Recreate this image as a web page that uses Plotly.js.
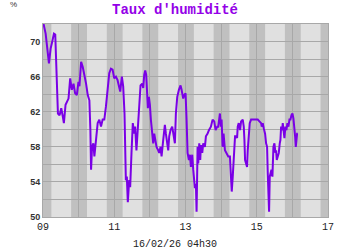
<!DOCTYPE html>
<html>
<head>
<meta charset="utf-8">
<script src="https://cdn.plot.ly/plotly-3.0.1.min.js"></script>
<style>html,body{margin:0;padding:0;background:#fff;}#chart{width:350px;height:250px;}</style>
</head>
<body>
<div id="chart"></div>
<script>
// Time in days of February 2026, humidity in %
const times = [
9.000,9.074,9.167,9.214,9.260,9.307,9.344,9.372,9.391,9.419,9.465,9.512,9.558,9.586,9.633,9.670,9.716,9.763,9.809,9.856,9.902,9.949,9.995,
10.023,10.070,10.116,10.163,10.209,10.256,10.302,10.330,10.349,10.377,10.414,10.442,10.488,10.535,10.581,10.628,10.674,10.721,10.767,10.814,10.860,10.907,10.953,
11.000,11.047,11.093,11.140,11.167,11.214,11.251,11.288,11.307,11.326,11.353,11.381,11.419,11.447,11.484,11.521,11.558,11.586,11.623,11.660,11.688,
11.738,11.785,11.813,11.841,11.869,11.897,11.925,11.944,11.972,
12.000,12.028,12.066,12.094,12.122,12.159,12.187,12.234,12.262,12.300,12.328,12.375,12.421,12.449,12.487,12.515,12.543,12.581,12.627,12.674,12.702,12.730,12.768,12.815,12.861,12.890,12.936,12.964,
13.002,13.030,13.058,13.096,13.124,13.152,13.189,13.217,13.245,13.264,13.292,13.311,13.339,13.358,13.386,13.414,13.433,13.470,13.498,13.545,13.573,13.620,13.657,13.713,13.760,13.807,13.845,13.891,13.919,13.948,13.966,13.994,
14.013,14.041,14.069,14.107,14.154,14.200,14.247,14.298,14.326,14.373,14.391,14.419,14.448,14.466,14.494,14.532,14.560,14.607,14.635,14.654,14.672,14.700,14.728,14.747,14.775,14.803,14.841,14.934,
15.028,15.075,15.122,15.140,15.169,15.197,15.234,15.262,15.290,15.309,15.328,15.346,15.365,15.384,15.412,15.440,15.468,15.496,15.524,15.543,15.562,15.590,15.618,15.646,15.665,15.684,15.712,15.730,15.758,15.777,15.805,15.833,15.861,15.890,15.918,15.946,15.974,
16.002,16.030,16.058,16.077,16.096,16.114,16.133,16.152
];
const humidity = [
72.3,70.9,67.5,69.2,70.0,70.9,70.8,66.8,63.7,61.8,61.6,62.4,61.4,60.7,62.8,63.1,63.5,65.8,64.5,65.2,64.1,63.9,65.4,
64.9,67.7,67.1,66.2,65.2,63.9,63.3,59.9,55.4,58.0,58.4,56.9,59.2,60.7,61.1,60.3,61.1,61.1,62.6,64.5,66.4,66.9,66.8,
65.8,66.0,65.6,64.9,64.3,66.0,64.9,61.8,57.3,54.2,54.6,51.7,54.2,53.4,57.3,60.7,59.5,60.3,57.6,59.9,62.6,
65.0,65.2,64.7,66.2,66.7,66.2,64.5,62.4,63.7,
62.8,61.1,59.5,58.4,59.5,58.8,58.0,57.6,57.3,58.0,56.9,58.8,60.5,59.5,58.4,57.6,59.2,59.9,60.3,59.2,58.4,61.8,63.7,64.5,65.0,64.5,63.5,63.9,
64.1,61.1,57.3,56.5,57.1,55.7,57.1,55.4,54.2,53.3,53.8,50.6,58.0,56.1,58.4,56.5,58.2,57.3,58.4,58.0,59.2,59.5,59.9,60.3,61.1,60.9,59.9,60.3,60.3,61.1,61.8,60.3,
61.1,58.0,59.5,57.6,57.3,56.9,56.9,52.9,54.6,57.6,59.2,59.2,59.0,60.3,60.7,59.9,60.9,61.1,60.3,58.8,56.5,56.1,55.7,57.6,59.2,60.7,61.1,61.1,
61.1,60.9,60.7,60.3,60.7,60.1,59.5,58.4,58.0,55.0,53.4,50.6,54.6,55.0,55.4,54.6,58.0,58.4,57.3,57.6,56.5,56.9,57.3,58.4,58.8,60.3,59.9,60.7,59.2,59.0,60.3,59.9,60.7,60.3,61.1,61.1,61.6,
61.8,61.2,60.3,59.2,58.0,58.8,59.5,59.5
];
const dayTicks = [9, 11, 13, 15, 17];
const dayTickText = ["09", "11", "13", "15", "17"];
const humTicks = [50, 54, 58, 62, 66, 70];
const nightDays = [8, 9, 10, 11, 12, 13, 14, 15, 16];

const shapes = nightDays.map(d => ({
  type: 'rect', xref: 'x', yref: 'paper', layer: 'below',
  x0: d + 0.79, x1: d + 1.235, y0: 0, y1: 1,
  fillcolor: '#c0c0c0', line: {width: 0}
}));

const trace = {
  x: times, y: humidity, type: 'scatter', mode: 'lines',
  line: {color: '#7a00e6', width: 2}, hoverinfo: 'skip'
};

const layout = {
  width: 350, height: 250,
  margin: {l: 43, r: 22, t: 24, b: 33},
  paper_bgcolor: '#ffffff', plot_bgcolor: '#e0e0e0',
  showlegend: false,
  title: {text: "Taux d'humidité", x: 0.5, xref: 'container', xanchor: 'center',
          y: 0.965, yref: 'container', yanchor: 'middle',
          font: {family: 'Liberation Mono, monospace', size: 14, color: '#9400e8', weight: 'bold'}},
  xaxis: {range: [9, 17], tickvals: dayTicks, ticktext: dayTickText,
          showgrid: true, gridcolor: '#a8a8a8', gridwidth: 1,
          zeroline: false, showline: true, linecolor: '#a8a8a8', mirror: true,
          ticks: '', fixedrange: true,
          tickfont: {family: 'Liberation Mono, monospace', size: 10, color: '#222'},
          minor: {tickvals: [10, 12, 14, 16], showgrid: true, gridcolor: '#a8a8a8', gridwidth: 1}},
  yaxis: {range: [50, 72], tickvals: humTicks, showgrid: true, gridcolor: '#a8a8a8', gridwidth: 1,
          zeroline: false, showline: true, linecolor: '#a8a8a8', mirror: true, ticks: '',
          fixedrange: true,
          tickfont: {family: 'Liberation Sans, Arial, sans-serif', size: 9, color: '#333', weight: 'bold'},
          minor: {dtick: 2, tick0: 50, showgrid: true, gridcolor: '#a8a8a8', gridwidth: 1}},
  shapes: shapes,
  annotations: [
    {text: '%', xref: 'paper', yref: 'paper', x: -0.105, y: 1.1, xanchor: 'center', yanchor: 'middle',
     showarrow: false, font: {family: 'Liberation Sans, sans-serif', size: 8, color: '#333'}},
    {text: '16/02/26 04h30', xref: 'paper', yref: 'paper', x: 0.463, y: -0.145, xanchor: 'center', yanchor: 'middle',
     showarrow: false, font: {family: 'Liberation Mono, monospace', size: 10, color: '#222'}}
  ]
};

Plotly.newPlot('chart', [trace], layout, {staticPlot: true, displayModeBar: false});
</script>
</body>
</html>
